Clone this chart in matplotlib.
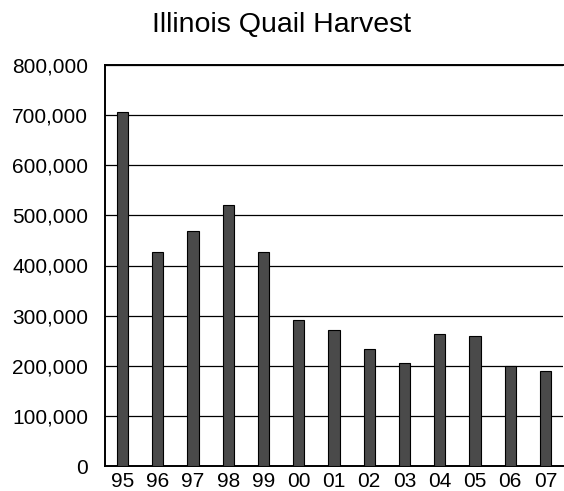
import matplotlib
matplotlib.use("Agg")
import matplotlib.pyplot as plt
from matplotlib.ticker import FuncFormatter

years = ["95", "96", "97", "98", "99", "00", "01", "02", "03", "04", "05", "06", "07"]
harvest = [706000, 426000, 468000, 520000, 426000, 291000, 272000, 234000, 205000, 264000, 260000, 199000, 189000]
yticks = [0, 100000, 200000, 300000, 400000, 500000, 600000, 700000, 800000]

plt.rcParams['font.family'] = ['Liberation Sans', 'DejaVu Sans']

fig = plt.figure(figsize=(5.64, 4.91), dpi=100)
ax = fig.add_axes([105/564, 1 - 466/491, (563-105)/564, (466-65)/491])

x = list(range(len(years)))
ax.bar(x, harvest, width=0.32, color='#4a4a4a', edgecolor='black', linewidth=0.8, zorder=3)
ax.set_xlim(-0.5, len(years) - 0.5)
ax.set_ylim(0, 800000)
ax.set_yticks(yticks)
ax.yaxis.set_major_formatter(FuncFormatter(lambda v, p: f"{int(v):,}"))
ax.set_xticks(x)
ax.set_xticklabels(years)
ax.tick_params(axis='both', length=0, labelsize=15, colors='black')
ax.tick_params(axis='y', pad=12)
ax.tick_params(axis='x', pad=4)
ax.grid(axis='y', color='black', linewidth=0.9, zorder=1)
for s in ['left', 'bottom', 'top']:
    ax.spines[s].set_linewidth(1.4)
    ax.spines[s].set_color('black')
ax.spines['right'].set_visible(False)

fig.text(0.5, 1 - 25/491, "Illinois Quail Harvest", ha='center', va='center', fontsize=20.5)

fig.savefig("out.png", dpi=100)
